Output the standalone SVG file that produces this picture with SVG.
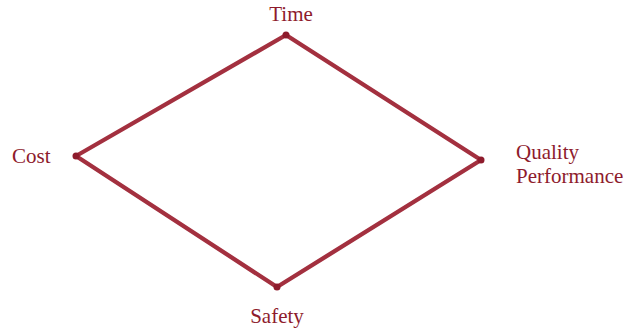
<svg xmlns="http://www.w3.org/2000/svg" width="627" height="329" viewBox="0 0 627 329">
<style>
.edge{stroke:#A3303F;stroke-width:4.3;fill:none;stroke-linecap:round}
.dot{fill:#8E1B2C}
.lbl{font-family:"Liberation Serif","Times New Roman",serif;font-size:21px;fill:#8E1B2C}
</style>
<rect width="627" height="329" fill="#ffffff"/>
<g id="connectors">
<line class="edge" x1="286" y1="35" x2="481" y2="160"/>
<line class="edge" x1="481" y1="160" x2="277" y2="287"/>
<line class="edge" x1="277" y1="287" x2="76" y2="156"/>
<line class="edge" x1="76" y1="156" x2="286" y2="35"/>
</g>
<g id="time"><circle class="dot" cx="286" cy="35" r="3.5"/><text class="lbl" x="291" y="21" text-anchor="middle">Time</text></g>
<g id="cost"><circle class="dot" cx="76" cy="156" r="3.5"/><text class="lbl" x="12" y="163">Cost</text></g>
<g id="quality"><circle class="dot" cx="481" cy="160" r="3.5"/><text class="lbl" x="516" y="159">Quality</text><text class="lbl" x="516" y="183">Performance</text></g>
<g id="safety"><circle class="dot" cx="277" cy="287" r="3.5"/><text class="lbl" x="277" y="323" text-anchor="middle">Safety</text></g>
</svg>
